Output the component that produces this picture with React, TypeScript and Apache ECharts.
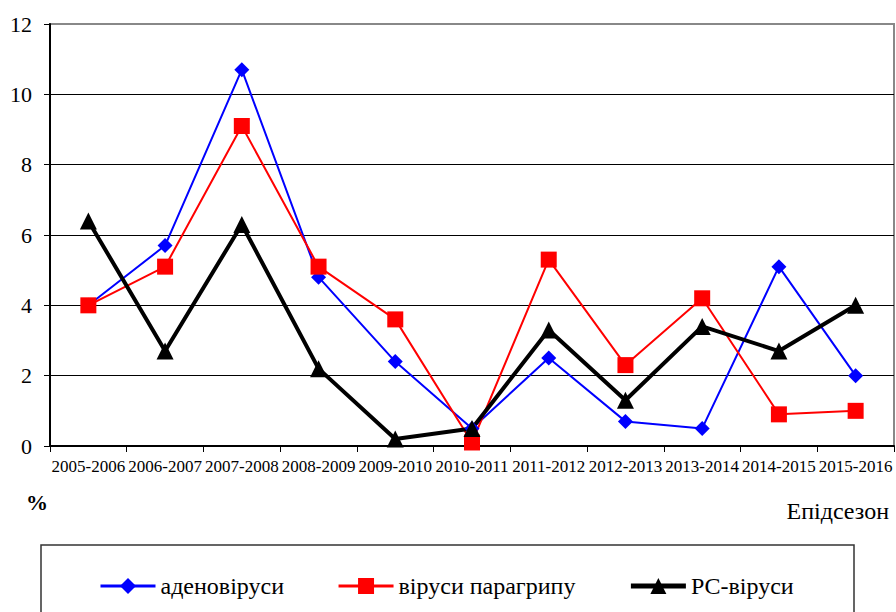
import React, { useEffect, useRef } from "react";
import * as echarts from "echarts";

const seasons = [
  "2005-2006", "2006-2007", "2007-2008", "2008-2009", "2009-2010", "2010-2011",
  "2011-2012", "2012-2013", "2013-2014", "2014-2015", "2015-2016",
];
const adeno = [4.0, 5.7, 10.7, 4.8, 2.4, 0.5, 2.5, 0.7, 0.5, 5.1, 2.0];
const parainfluenza = [4.0, 5.1, 9.1, 5.1, 3.6, 0.1, 5.3, 2.3, 4.2, 0.9, 1.0];
const rsv = [6.4, 2.7, 6.3, 2.2, 0.2, 0.5, 3.3, 1.3, 3.4, 2.7, 4.0];
const seriesNames = ["аденовіруси", "віруси парагрипу", "РС-віруси"];
const yUnit = "%";
const xTitle = "Епідсезон";

const FONT = "Liberation Serif";

export default function App() {
  const ref = useRef<HTMLDivElement>(null);
  useEffect(() => {
    if (!ref.current) return;
    const chart = echarts.init(ref.current, undefined, { renderer: "svg" });
    chart.setOption({
      animation: false,
      backgroundColor: "#fff",
      textStyle: { fontFamily: FONT },
      grid: {
        left: 50, right: 2, top: 24, bottom: 166,
        show: true, borderColor: "#888", borderWidth: 2, backgroundColor: "transparent",
      },
      xAxis: {
        type: "category",
        data: seasons,
        boundaryGap: true,
        axisLine: { show: true, lineStyle: { color: "#000", width: 2 } },
        axisTick: { show: true, length: 6, lineStyle: { color: "#000", width: 1 } },
        axisLabel: {
          interval: 0, hideOverlap: false, margin: 12,
          fontSize: 17, color: "#000", fontFamily: FONT,
        },
        splitLine: { show: false },
      },
      yAxis: {
        type: "value",
        min: 0, max: 12, interval: 2,
        axisLine: { show: true, lineStyle: { color: "#000", width: 2 } },
        axisTick: { show: true, length: 6, lineStyle: { color: "#000", width: 1 } },
        axisLabel: { margin: 18, fontSize: 22, color: "#000", fontFamily: FONT },
        splitLine: {
          show: true,
          lineStyle: { color: ["#000", "#000", "#000", "#000", "#000", "#000", "#888"], width: 1 },
        },
      },
      legend: {
        left: 94, top: 569,
        itemWidth: 55, itemHeight: 20, itemGap: 53,
        textStyle: { fontSize: 24, color: "#000", fontFamily: FONT },
        data: [
          { name: seriesNames[0], lineStyle: { width: 3, color: "#0000ff" } },
          { name: seriesNames[1], lineStyle: { width: 3, color: "#ff0000" } },
          { name: seriesNames[2], lineStyle: { width: 5, color: "#000" } },
        ],
      },
      series: [
        {
          name: seriesNames[0], type: "line", data: adeno,
          color: "#0000ff",
          lineStyle: { color: "#0000ff", width: 2 },
          itemStyle: { color: "#0000ff" },
          symbol: "diamond", symbolSize: 15,
        },
        {
          name: seriesNames[1], type: "line", data: parainfluenza,
          color: "#ff0000",
          lineStyle: { color: "#ff0000", width: 2 },
          itemStyle: { color: "#ff0000" },
          symbol: "rect", symbolSize: 16,
        },
        {
          name: seriesNames[2], type: "line", data: rsv,
          color: "#000",
          lineStyle: { color: "#000", width: 4 },
          itemStyle: { color: "#000" },
          symbol: "triangle", symbolSize: 17,
        },
      ],
      graphic: [
        {
          type: "text", left: 26, top: 491,
          style: { text: yUnit, fontFamily: FONT, fontWeight: "bold", fontSize: 22, fill: "#000" },
        },
        {
          type: "text", right: 7, top: 499,
          style: { text: xTitle, fontFamily: FONT, fontSize: 24, fill: "#000" },
        },
        {
          type: "rect", z: -1,
          shape: { x: 41, y: 545, width: 813, height: 100 },
          style: { fill: "none", stroke: "#333", lineWidth: 1.5 },
        },
      ],
    });
    return () => chart.dispose();
  }, []);
  return (
    <div
      ref={ref}
      style={{ position: "fixed", left: 0, top: 0, width: 896, height: 612 }}
    />
  );
}
